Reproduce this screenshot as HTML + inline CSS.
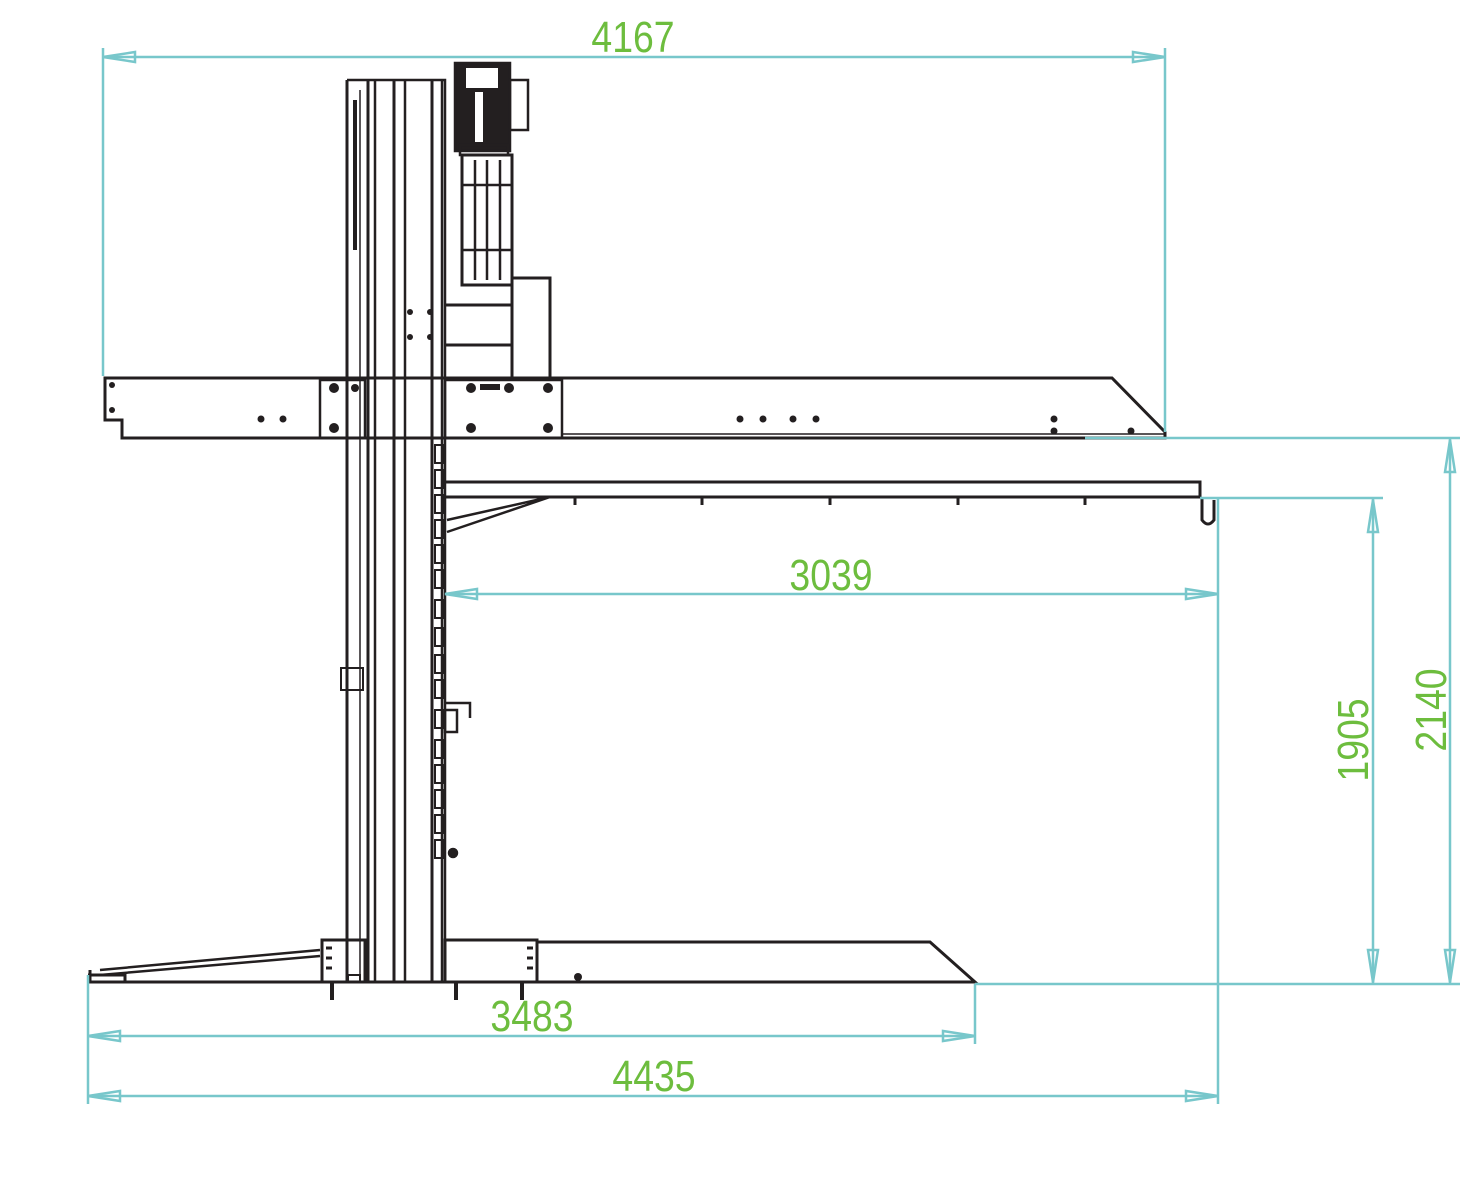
<!DOCTYPE html>
<html><head><meta charset="utf-8"><style>
html,body{margin:0;padding:0;background:#fff;}
svg{display:block}
text{font-family:"Liberation Sans",sans-serif;fill:#6dbd3e;font-size:44px}
</style></head><body>
<svg width="1481" height="1200" viewBox="0 0 1481 1200" xmlns="http://www.w3.org/2000/svg">
<g stroke="#231f20" fill="none" stroke-width="2.5">
<!-- column -->
<path d="M347 80 H445 V982"/>
<line x1="347" y1="80" x2="347" y2="982" stroke-width="3"/>
<line x1="360" y1="90" x2="360" y2="982" stroke-width="1.5"/>
<line x1="368" y1="80" x2="368" y2="982" stroke-width="3"/>
<line x1="375" y1="80" x2="375" y2="982"/>
<line x1="394" y1="80" x2="394" y2="982" stroke-width="3"/>
<line x1="405" y1="80" x2="405" y2="982"/>
<line x1="432" y1="80" x2="432" y2="982" stroke-width="3"/>
<line x1="442" y1="80" x2="442" y2="982"/>
<line x1="355" y1="100" x2="355" y2="250" stroke-width="4"/>
<rect x="341" y="668" width="22" height="22" stroke-width="2"/>
<!-- chain -->
<g stroke-width="2">
<rect x="435" y="445" width="9" height="18"/><rect x="435" y="470" width="9" height="18"/><rect x="435" y="495" width="9" height="18"/>
<rect x="435" y="520" width="9" height="18"/><rect x="435" y="545" width="9" height="18"/><rect x="435" y="570" width="9" height="18"/>
<rect x="435" y="600" width="9" height="18"/><rect x="435" y="628" width="9" height="18"/><rect x="435" y="655" width="9" height="18"/>
<rect x="435" y="680" width="9" height="18"/><rect x="435" y="710" width="9" height="18"/><rect x="435" y="740" width="9" height="18"/>
<rect x="435" y="765" width="9" height="18"/><rect x="435" y="790" width="9" height="18"/><rect x="435" y="815" width="9" height="18"/>
<rect x="435" y="840" width="9" height="18"/>
</g>
<path d="M445 703 H470 V718"/><rect x="445" y="710" width="12" height="22"/>
<circle cx="453" cy="853" r="4" fill="#231f20"/>
<!-- motor -->
<rect x="455" y="63" width="55" height="88" fill="#231f20"/>
<rect x="466" y="68" width="32" height="20" fill="#fff" stroke="none"/>
<rect x="475" y="92" width="8" height="50" fill="#fff" stroke="none"/>
<rect x="510" y="80" width="18" height="50"/>
<rect x="460" y="145" width="48" height="10"/>
<rect x="462" y="155" width="50" height="130" stroke-width="3"/>
<line x1="462" y1="185" x2="512" y2="185"/><line x1="462" y1="250" x2="512" y2="250"/>
<line x1="475" y1="160" x2="475" y2="280"/><line x1="487" y1="160" x2="487" y2="280"/><line x1="500" y1="160" x2="500" y2="280"/>
<path d="M445 305 H512 M445 345 H512 M512 280 V378 M512 278 H550 V378" stroke-width="3"/>
<!-- upper platform -->
<path d="M105 378 H1112 L1165 432 V438 H122 V420 H105 Z" stroke-width="3"/>
<rect x="320" y="380" width="45" height="58"/>
<rect x="445" y="380" width="117" height="58"/>
<line x1="562" y1="434" x2="1165" y2="434" stroke-width="1.5"/>
</g>
<g fill="#231f20">
<circle cx="334" cy="388" r="5"/><circle cx="334" cy="428" r="5"/><circle cx="355" cy="388" r="4"/>
<circle cx="471" cy="388" r="5"/><circle cx="509" cy="388" r="5"/><circle cx="548" cy="388" r="5"/>
<circle cx="471" cy="428" r="5"/><circle cx="548" cy="428" r="5"/><rect x="480" y="384" width="20" height="6"/>
<circle cx="261" cy="419" r="3.5"/><circle cx="283" cy="419" r="3.5"/>
<circle cx="740" cy="419" r="3.5"/><circle cx="763" cy="419" r="3.5"/><circle cx="793" cy="419" r="3.5"/><circle cx="816" cy="419" r="3.5"/>
<circle cx="1054" cy="419" r="3.5"/><circle cx="1054" cy="431" r="3.5"/><circle cx="1131" cy="431" r="3.5"/>
<circle cx="112" cy="385" r="3"/><circle cx="112" cy="410" r="3"/>
<circle cx="410" cy="312" r="3"/><circle cx="430" cy="312" r="3"/><circle cx="410" cy="337" r="3"/><circle cx="430" cy="337" r="3"/>
</g>
<!-- lower arm -->
<g stroke="#231f20" fill="none" stroke-width="3">
<path d="M445 482 H1200 V497 H445"/>
<path d="M447 520 L550 497 M447 532 L550 497" stroke-width="2.5"/>
<path d="M1202 497 V520 Q1208 528 1214 520 V500"/>
<g stroke-width="3"><path d="M575 497v8M702 497v8M830 497v8M958 497v8M1085 497v8"/></g>
<!-- bottom -->
<path d="M88 982 H975 L930 942 H537" stroke-width="3"/>
<path d="M100 970 L320 950 M100 975 L320 956" stroke-width="2.5"/>
<path d="M90 970 V982 M88 975 H125 V982"/>
<rect x="322" y="940" width="43" height="42"/>
<rect x="445" y="940" width="92" height="42"/>
<rect x="348" y="975" width="12" height="7" stroke-width="2"/>
<path d="M332 982 V1000 M456 982 V1000 M522 982 V1000" stroke-width="4"/>
<path d="M326 948 H332 M326 958 H332 M326 968 H332 M527 948 H533 M527 958 H533 M527 968 H533" stroke-width="3"/>
</g>
<circle cx="578" cy="977" r="4" fill="#231f20"/>
<!-- dimensions -->
<g stroke="#78c7cb" fill="none" stroke-width="2.5">
<path d="M103 48 V376 M1165 48 V432 M103 57 H1165"/>
<path d="M103 57 L135 52 V62 Z M1165 57 L1133 52 V62 Z"/>
<path d="M445 594 H1218 M1218 498 V1104"/>
<path d="M445 594 L477 589 V599 Z M1218 594 L1186 589 V599 Z"/>
<path d="M88 975 V1104 M975 984 V1044 M88 1036 H975"/>
<path d="M88 1036 L120 1031 V1041 Z M975 1036 L943 1031 V1041 Z"/>
<path d="M88 1096 H1218"/>
<path d="M88 1096 L120 1091 V1101 Z M1218 1096 L1186 1091 V1101 Z"/>
<path d="M1200 498 H1383 M975 984 H1460 M1085 438 H1460"/>
<path d="M1373 498 V984 M1450 438 V984"/>
<path d="M1373 500 L1368 532 H1378 Z M1373 982 L1368 950 H1378 Z"/>
<path d="M1450 440 L1445 472 H1455 Z M1450 982 L1445 950 H1455 Z"/>
</g>
<text x="633" y="52" text-anchor="middle" transform="translate(633 0) scale(0.85 1) translate(-633 0)">4167</text>
<text x="831" y="590" text-anchor="middle" transform="translate(831 0) scale(0.85 1) translate(-831 0)">3039</text>
<text x="532" y="1031" text-anchor="middle" transform="translate(532 0) scale(0.85 1) translate(-532 0)">3483</text>
<text x="654" y="1091" text-anchor="middle" transform="translate(654 0) scale(0.85 1) translate(-654 0)">4435</text>
<text transform="translate(1368 740) rotate(-90) scale(0.85 1)" text-anchor="middle">1905</text>
<text transform="translate(1446 710) rotate(-90) scale(0.85 1)" text-anchor="middle">2140</text>
</svg>
</body></html>
